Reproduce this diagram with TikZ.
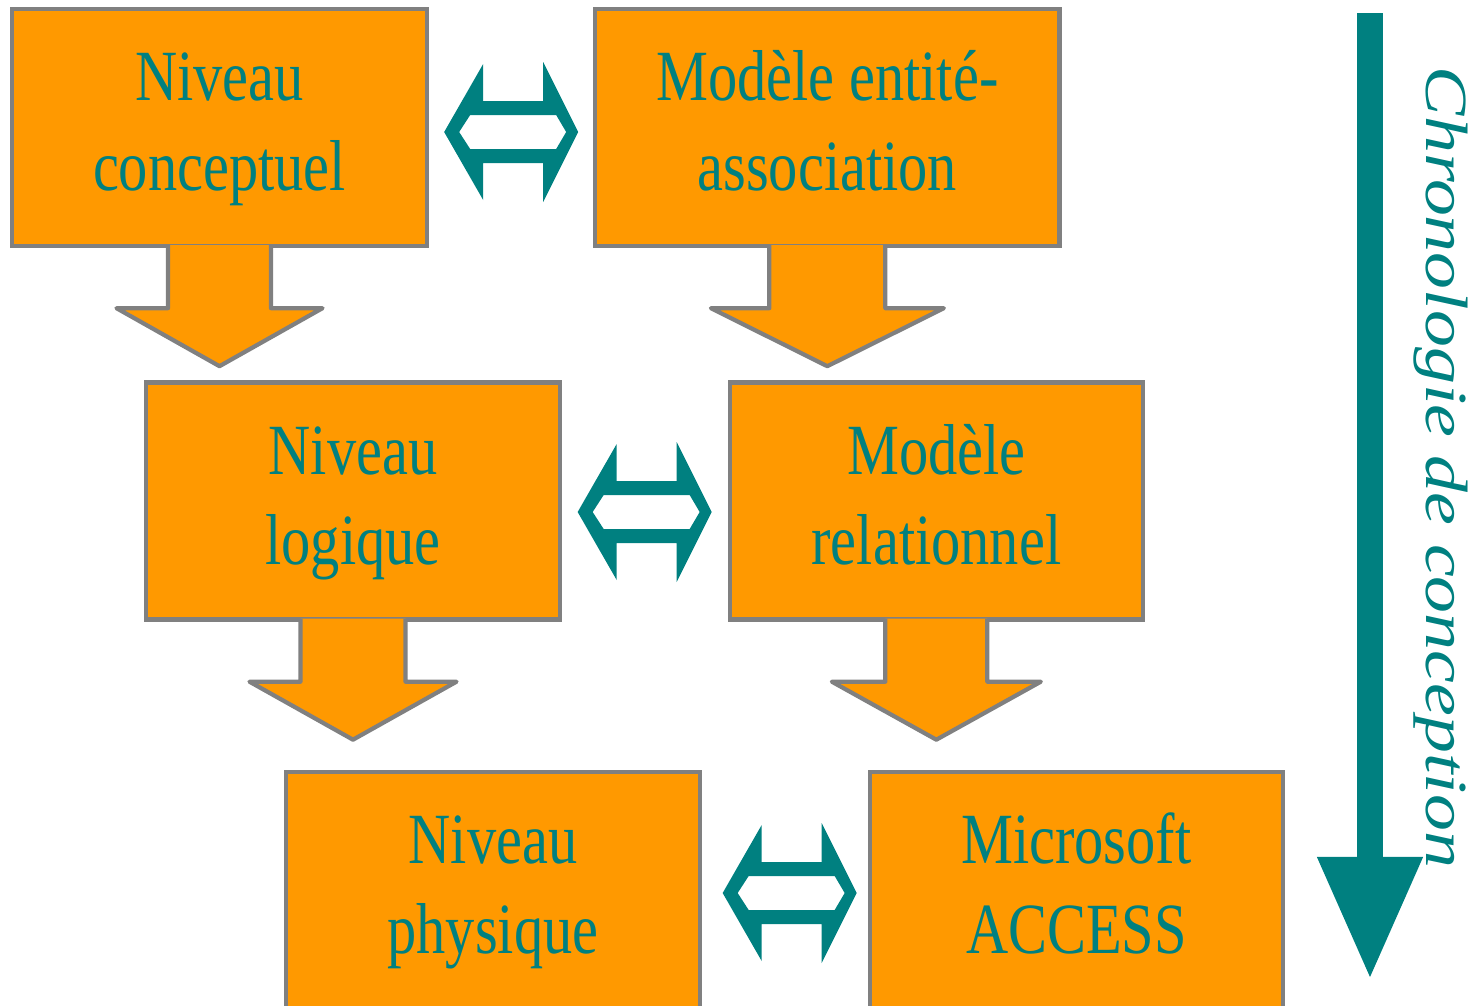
\documentclass[tikz,border=0pt]{standalone}
\usepackage{fontspec}
\usepackage{tikz}
\usetikzlibrary{positioning,arrows.meta,calc}
\newfontfamily\boxfont[FakeStretch=0.81]{Liberation Serif}
\newfontfamily\chronofont{Liberation Serif}
\definecolor{boxorange}{HTML}{FF9900}
\definecolor{boxgray}{HTML}{808080}
\definecolor{chronoteal}{HTML}{008080}
\tikzset{>={Triangle[length=1.23cm,width=0.98cm]}}

\begin{document}
\begin{tikzpicture}[x=0.01cm, y=-0.01cm, node distance=5.83cm,
    box/.style={draw=boxgray, line width=1.2pt, fill=boxorange, text=chronoteal,
      minimum width=4.13cm, minimum height=2.37cm, align=center,
      font=\boxfont\fontsize{20.5}{25.6}\selectfont},
    arrowbox/.style={draw=boxgray, line width=1.2pt, fill=boxorange, line join=round},
    pics/downarrow/.style 2 args={code={
      \filldraw[arrowbox] (-#1,-3) -- (-#1,60) -- (-#2,60) -- (0,118)
        -- (#2,60) -- (#1,60) -- (#1,-3);
    }},
    dblarrow/.pic={
      \fill[chronoteal, even odd rule]
        (-67,0) -- (-28,-68) -- (-28,-31) -- (32,-31) -- (32,-70) -- (67,0)
        -- (32,70) -- (32,31) -- (-28,31) -- (-28,68) -- cycle
        (-52,0) -- (-41,-17) -- (45,-17) -- (55,0) -- (45,17) -- (-41,17) -- cycle;
    },
    chronoline/.style={chronoteal, line width=0.26cm},
    chronolabel/.style={text=chronoteal, inner sep=0,
      font=\chronofont\itshape\fontsize{21}{25}\selectfont}]
  \path[use as bounding box] (0,0) rectangle (1475,1005);
  \clip (0,0) rectangle (1475,1005);

  \node[box, minimum width=4.15cm] (conc) at (219.5,127.5) {\strut Niveau\\conceptuel\strut};
  \node[box, minimum width=4.64cm] (ea) [right of=conc, xshift=2.45mm] {\strut Modèle entité-\\association\strut};
  \node[box] (logique) at (353,501) {\strut Niveau\\logique\strut};
  \node[box] (relat) [right of=logique] {\strut Modèle\\relationnel\strut};
  \node[box] (phys) at (493,890.5) {\strut Niveau\\physique\strut};
  \node[box] (access) [right of=phys] {\strut Microsoft\\ACCESS\strut};

  \pic at (conc.south) {downarrow={51.5}{103}};
  \pic at (ea.south) {downarrow={58}{116.5}};
  \pic at (logique.south) {downarrow={52.5}{103.5}};
  \pic at (relat.south) {downarrow={51}{104.5}};

  \pic at ($(conc.east)!0.5!(ea.west)+(0,4.5)$) {dblarrow};
  \pic at ($(logique.east)!0.5!(relat.west)+(0,11)$) {dblarrow};
  \pic at ($(phys.east)!0.5!(access.west)+(5,2.5)$) {dblarrow};

  \coordinate (chronotop) at (1370,13);
  \coordinate (chronobot) at (1370,980);
  \draw[chronoline, ->] (chronotop) -- (chronobot);
  \node[chronolabel, rotate=-90] (chrono) at ($(chronotop)!0.47!(chronobot)+(71,0)$)
    {\scalebox{1}[0.81]{Chronologie de conception}};
\end{tikzpicture}
\end{document}
